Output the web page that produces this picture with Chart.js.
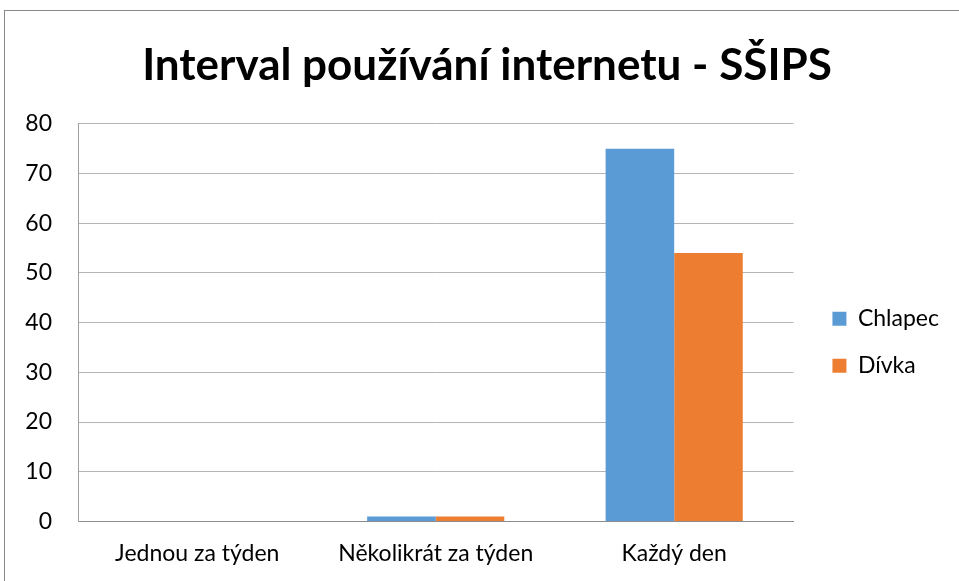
<!DOCTYPE html>
<html>
<head>
<meta charset="utf-8">
<script src="https://cdn.jsdelivr.net/npm/chart.js@4"></script>
<style>
html,body{margin:0;padding:0;background:#fff;overflow:hidden;}
#frame{position:absolute;left:4px;top:10px;width:1100px;height:1100px;border:1px solid #898989;box-sizing:border-box;}
#wrap{position:absolute;left:0;top:0;width:959px;height:581px;}
</style>
</head>
<body>
<div id="frame"></div>
<div id="wrap"><canvas id="c" width="959" height="581"></canvas></div>
<script>
const categories = ["Jednou za týden", "Několikrát za týden", "Každý den"];
const chlapec = [0, 1, 75];
const divka = [0, 1, 54];
const seriesNames = ["Chlapec", "Dívka"];
const titleText = "Interval používání internetu - SŠIPS";
const yMin = 0, yMax = 80, yStep = 10;

const FONT = "Lato, 'Open Sans', sans-serif";

const titleShift = {
  id: 'titleShift',
  afterLayout(chart) {
    const t = chart.titleBlock;
    if (t) {
      const targetCenter = 487;
      const cur = (t.left + t.right) / 2;
      t.left += 2 * (targetCenter - cur);
    }
  }
};

new Chart(document.getElementById('c'), {
  type: 'bar',
  data: {
    labels: categories,
    datasets: [
      {label: seriesNames[0], data: chlapec, backgroundColor: '#5B9BD5', borderWidth: 0},
      {label: seriesNames[1], data: divka, backgroundColor: '#ED7D31', borderWidth: 0}
    ]
  },
  plugins: [titleShift],
  options: {
    responsive: false,
    animation: false,
    devicePixelRatio: 1,
    layout: {padding: {left: 1, right: 10, top: 39, bottom: -4}},
    datasets: {bar: {categoryPercentage: 0.575, barPercentage: 1}},
    plugins: {
      title: {
        display: true,
        text: titleText,
        color: '#000',
        font: {family: FONT, size: 44, weight: 'bold'},
        padding: {top: 0, bottom: 32}
      },
      legend: {
        position: 'right',
        align: 'start',
        title: {display: true, text: ' ', font: {size: 1}, padding: {top: 243, bottom: 0}},
        labels: {
          color: '#000',
          font: {family: FONT, size: 23},
          boxWidth: 14,
          boxHeight: 14,
          padding: 24
        }
      },
      tooltip: {enabled: false}
    },
    scales: {
      x: {
        grid: {display: false, drawTicks: false},
        border: {display: true, color: '#8c8c8c', width: 1},
        ticks: {color: '#000', font: {family: FONT, size: 23}, padding: 18, maxRotation: 0}
      },
      y: {
        min: yMin, max: yMax,
        grid: {color: '#b4b4b4', drawTicks: false},
        border: {display: true, color: '#a0a0a0', width: 1},
        ticks: {stepSize: yStep, color: '#000', font: {family: FONT, size: 23}, padding: 26},
        afterFit(s) { s.width = 77; }
      },
      gap: {
        type: 'linear',
        position: 'right',
        display: true,
        grid: {display: false, drawTicks: false},
        border: {display: false},
        ticks: {display: false},
        afterFit(s) { s.width = 15; }
      }
    }
  }
});
</script>
</body>
</html>
